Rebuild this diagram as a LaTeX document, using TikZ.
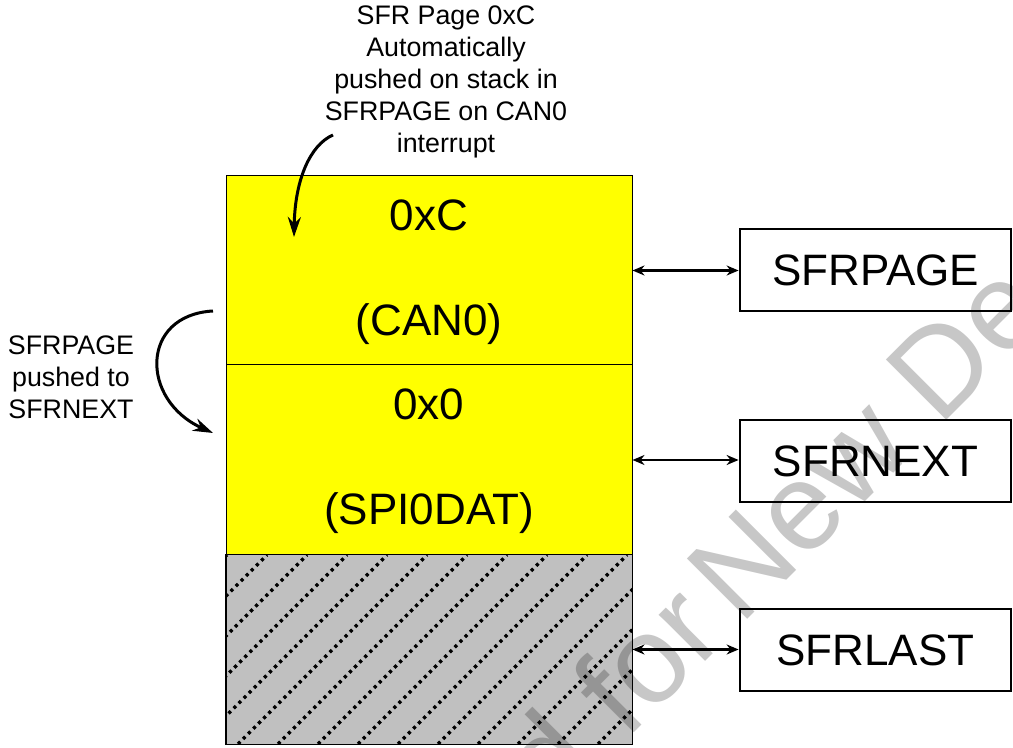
\documentclass[tikz,border=0pt]{standalone}
\usepackage{fontspec}
\setmainfont{Liberation Sans}
\usetikzlibrary{arrows.meta}
\definecolor{cellyellow}{HTML}{FFFF00}
\definecolor{cellgray}{HTML}{C0C0C0}
\begin{document}
\begin{tikzpicture}[x=0.5pt,y=-0.5pt,
  cell/.style={draw=black,line width=0.5pt,minimum width=203pt,inner sep=0pt,fill=cellyellow},
  reg/.style={draw=black,line width=1.4pt,minimum width=135.5pt,minimum height=41pt,inner sep=0pt,font=\fontsize{22}{26}\selectfont},
  big/.style={inner sep=0pt,font=\fontsize{22}{26}\selectfont},
  note/.style={inner sep=0pt,align=center,font=\fontsize{13.4}{16}\selectfont},
  link/.style={{Stealth[length=6pt,width=5pt]}-{Stealth[length=6pt,width=5pt]},line width=1.3pt},
  curvearrow/.style={-{Stealth[length=10pt,width=6.5pt]},line width=1.5pt},
  hatchline/.style={black,line width=1.6pt,dash pattern=on 1.6pt off 2pt},
  watermark/.style={inner sep=0pt,text=black,text opacity=0.22,font=\fontsize{62}{70}\selectfont}
]
\useasboundingbox (0,0) rectangle (1013,748);
% memory cells
\node[cell,minimum height=94.5pt] (c1) at (429,270.5) {};
\node[cell,minimum height=95pt] (c2) at (429,460) {};
\node[cell,minimum height=94.5pt,fill=cellgray] (c3) at (429,649.5) {};
\begin{scope}
  \clip (c3.south west) rectangle (c3.north east);
  \foreach \k in {-1,...,16} \draw[hatchline] (38+40*\k,744) -- ++(189,-189);
\end{scope}
\draw[line width=0.5pt] (c3.south west) rectangle (c3.north east);
% cell texts
\node[big] (t1) at (429,215) {0xC};
\node[big] (t2) at (429,324) {(CAN0)};
\node[big] (t3) at (429,404) {0x0};
\node[big] (t4) at (429,513) {(SPI0DAT)};
% registers
\node[reg] (r1) at (875.5,270) {SFRPAGE};
\node[reg] (r2) at (875.5,461) {SFRNEXT};
\node[reg] (r3) at (875.5,650) {SFRLAST};
\draw[link] (c1.east) -- (r1.west |- c1.east);
\draw[link] (c2.east) -- (r2.west |- c2.east);
\draw[link] (c3.east) -- (r3.west |- c3.east);
% annotations
\node[note] (n1) at (446,82) {SFR Page 0xC\\Automatically\\pushed on stack in\\SFRPAGE on CAN0\\interrupt};
\node[note] (n2) at (71,377) {SFRPAGE\\pushed to\\SFRNEXT};
\coordinate (a0) at (333,135);
\coordinate (a1) at (294,237);
\draw[curvearrow] (a0) .. controls (310,145) and (295,180) .. (a1);
\coordinate (b0) at (213,311);
\coordinate (b1) at (213,433);
\draw[curvearrow] (b0) .. controls (140,315) and (140,400) .. (b1);
% watermark
\begin{scope}
  \clip (0,0) rectangle (1013,748);
  \node[watermark,rotate=45,anchor=base west] (wm) at (740,627) {\llap{Not Recommended for \kern-0.15em}New Designs};
\end{scope}
\end{tikzpicture}
\end{document}
